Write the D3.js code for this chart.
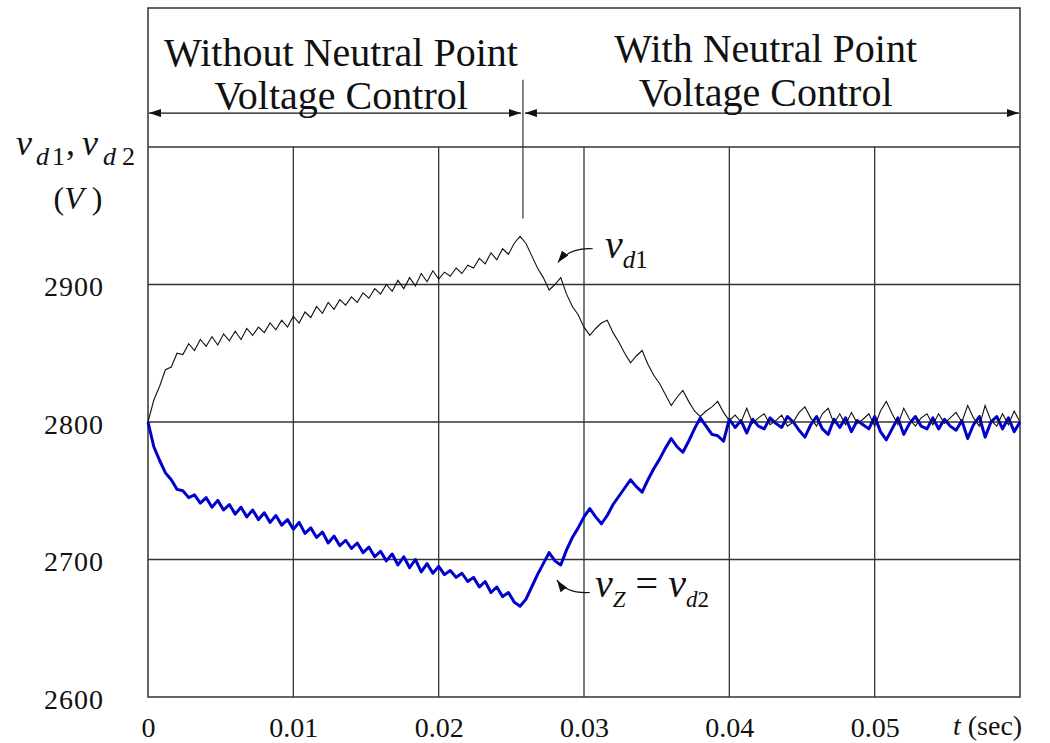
<!DOCTYPE html>
<html>
<head>
<meta charset="utf-8">
<script src="https://cdn.jsdelivr.net/npm/d3@7"></script>
<style>
  body { margin: 0; background: #fff; }
  svg text { font-family: "Liberation Serif", "Times New Roman", serif; fill: #111; }
</style>
</head>
<body>
<div id="chart"></div>
<script>
"use strict";

// sampled every 0.4 ms from 0 to 0.06 s
var sampleStep = 0.0004;

var vd1 = [
  2800, 2816, 2826, 2838, 2840, 2850, 2849, 2857, 2852, 2860,
  2855, 2862, 2856, 2864, 2859, 2866, 2860, 2868, 2863, 2869,
  2865, 2872, 2867, 2874, 2869, 2877, 2872, 2880, 2876, 2884,
  2879, 2887, 2882, 2889, 2885, 2891, 2887, 2894, 2890, 2897,
  2893, 2900, 2895, 2903, 2897, 2905, 2899, 2908, 2902, 2910,
  2904, 2909, 2906, 2912, 2908, 2914, 2912, 2919, 2915, 2923,
  2918, 2926, 2922, 2930, 2935, 2930, 2921, 2912, 2905, 2896,
  2900, 2905, 2893, 2884, 2878, 2869, 2863, 2868, 2872, 2874,
  2865, 2858, 2850, 2843, 2848, 2852, 2842, 2834, 2828, 2820,
  2812, 2818, 2823, 2815, 2808, 2804, 2808, 2811, 2815, 2807,
  2801, 2805, 2800, 2810, 2799, 2803, 2806, 2798, 2801, 2805,
  2797, 2800, 2807, 2811, 2803, 2797, 2806, 2810, 2799, 2806,
  2798, 2807, 2799, 2802, 2806, 2797, 2808, 2815, 2806, 2798,
  2810, 2802, 2797, 2803, 2806, 2798, 2806, 2799, 2803, 2807,
  2800, 2812, 2803, 2797, 2812, 2801, 2797, 2806, 2798, 2808,
  2800
];

var vd2 = [
  2800, 2782, 2772, 2763, 2758, 2751, 2750, 2745, 2747, 2741,
  2745, 2738, 2743, 2736, 2740, 2733, 2738, 2731, 2736, 2729,
  2734, 2727, 2732, 2725, 2729, 2722, 2727, 2719, 2723, 2716,
  2720, 2712, 2717, 2710, 2714, 2708, 2712, 2705, 2709, 2702,
  2706, 2699, 2704, 2696, 2702, 2694, 2700, 2691, 2697, 2690,
  2695, 2689, 2692, 2687, 2690, 2684, 2687, 2680, 2684, 2676,
  2680, 2673, 2676, 2669, 2666, 2671, 2680, 2689, 2697, 2705,
  2699, 2696, 2707, 2716, 2723, 2731, 2737, 2731, 2726, 2732,
  2740, 2746, 2752, 2758, 2753, 2749, 2758, 2766, 2773, 2781,
  2788, 2782, 2778, 2786, 2795, 2803, 2797, 2791, 2790, 2786,
  2802, 2796, 2801, 2792, 2802, 2797, 2795, 2803, 2799, 2796,
  2804, 2800, 2794, 2789, 2798, 2804, 2795, 2791, 2802, 2796,
  2803, 2793, 2801, 2798, 2795, 2804, 2793, 2787, 2795, 2803,
  2791, 2799, 2804, 2797, 2795, 2803, 2795, 2802, 2797, 2794,
  2801, 2788, 2798, 2804, 2789, 2800, 2804, 2795, 2803, 2793,
  2800
];

var xTicks = [0, 0.01, 0.02, 0.03, 0.04, 0.05];
var xTickLabels = ["0", "0.01", "0.02", "0.03", "0.04", "0.05"];
var yTicks = [2600, 2700, 2800, 2900];
var yGrid = [2700, 2800, 2900, 3000];
var switchTime = 0.0258;

var width = 1050;
var height = 743;
var margin = {top: 8, right: 30, bottom: 46, left: 148};
var plotTop = 147;

var svg = d3.select("#chart").append("svg")
  .attr("width", width)
  .attr("height", height);

var x = d3.scaleLinear()
  .domain([0, 0.06])
  .range([margin.left, width - margin.right]);

var y = d3.scaleLinear()
  .domain([2600, 3000])
  .range([height - margin.bottom, plotTop]);

var yTop = y.invert(margin.top);

var defs = svg.append("defs");
defs.append("marker")
  .attr("id", "head")
  .attr("viewBox", "0 0 12 8")
  .attr("refX", 12).attr("refY", 4)
  .attr("markerWidth", 12).attr("markerHeight", 8)
  .attr("markerUnits", "userSpaceOnUse")
  .attr("orient", "auto-start-reverse")
  .append("path")
  .attr("d", "M0,0 L12,4 L0,8 Z")
  .attr("fill", "#111");

// grid
svg.append("g")
  .selectAll("line")
  .data(yGrid)
  .enter().append("line")
  .attr("x1", x(0)).attr("x2", x(0.06))
  .attr("y1", function(d) { return y(d); })
  .attr("y2", function(d) { return y(d); })
  .attr("stroke", "#333").attr("stroke-width", 1.3);

svg.append("g")
  .selectAll("line")
  .data(xTicks.slice(1))
  .enter().append("line")
  .attr("x1", function(d) { return x(d); })
  .attr("x2", function(d) { return x(d); })
  .attr("y1", y(3000)).attr("y2", y(2600))
  .attr("stroke", "#333").attr("stroke-width", 1.3);

svg.append("rect")
  .attr("x", x(0)).attr("y", y(yTop))
  .attr("width", x(0.06) - x(0))
  .attr("height", y(2600) - y(yTop))
  .attr("fill", "none")
  .attr("stroke", "#333").attr("stroke-width", 1.5);

// axes labels
var yAxis = svg.append("g")
  .attr("transform", "translate(" + (x(0) - 44) + ",0)")
  .call(d3.axisLeft(y).tickValues(yTicks).tickSize(0).tickPadding(0).tickFormat(d3.format("d")));
yAxis.select(".domain").remove();
yAxis.selectAll("text")
  .attr("font-size", 28)
  .attr("letter-spacing", 1)
  .attr("font-family", "Liberation Serif, serif")
  .attr("fill", "#111")
  .attr("dy", "0.4em");

var xAxis = svg.append("g")
  .attr("transform", "translate(0," + y(2600) + ")")
  .call(d3.axisBottom(x).tickValues(xTicks).tickSize(0).tickPadding(20)
    .tickFormat(function(d, i) { return xTickLabels[i]; }));
xAxis.select(".domain").remove();
xAxis.selectAll("text")
  .attr("font-size", 28)
  .attr("font-family", "Liberation Serif, serif")
  .attr("fill", "#111");

var tLabel = svg.append("text")
  .attr("x", 953).attr("y", y(2600) + 38)
  .attr("font-size", 28);
tLabel.append("tspan").attr("font-style", "italic").text("t");
tLabel.append("tspan").text(" (sec)");

var yLabel = svg.append("text")
  .attr("y", 155)
  .attr("font-size", 36);
yLabel.append("tspan").attr("x", 16).attr("font-style", "italic").text("v");
yLabel.append("tspan").attr("x", 36).attr("font-size", 26).attr("font-style", "italic").attr("dy", 10).text("d");
yLabel.append("tspan").attr("x", 52).attr("font-size", 26).text("1");
yLabel.append("tspan").attr("x", 66).attr("dy", -10).text(",");
yLabel.append("tspan").attr("x", 82).attr("font-style", "italic").text("v");
yLabel.append("tspan").attr("x", 103).attr("font-size", 26).attr("font-style", "italic").attr("dy", 10).text("d");
yLabel.append("tspan").attr("x", 122).attr("font-size", 26).text("2");

var unitLabel = svg.append("text")
  .attr("x", 78).attr("y", 209)
  .attr("text-anchor", "middle")
  .attr("font-size", 32);
unitLabel.append("tspan").text("(");
unitLabel.append("tspan").attr("font-style", "italic").text("V");
unitLabel.append("tspan").text(" )");

// header: control regions
var headerV = 3024.7;
svg.append("line")
  .attr("x1", x(0) + 1).attr("x2", x(switchTime) - 2)
  .attr("y1", y(headerV)).attr("y2", y(headerV))
  .attr("stroke", "#111").attr("stroke-width", 1.2)
  .attr("marker-start", "url(#head)").attr("marker-end", "url(#head)");
svg.append("line")
  .attr("x1", x(switchTime) + 2).attr("x2", x(0.06) - 1)
  .attr("y1", y(headerV)).attr("y2", y(headerV))
  .attr("stroke", "#111").attr("stroke-width", 1.2)
  .attr("marker-start", "url(#head)").attr("marker-end", "url(#head)");
svg.append("line")
  .attr("x1", x(switchTime)).attr("x2", x(switchTime))
  .attr("y1", y(3049)).attr("y2", y(2948))
  .attr("stroke", "#333").attr("stroke-width", 1.2);

var headers = [
  {t: 0.01328, lines: ["Without Neutral Point", "Voltage Control"], base: [3059, 3027.5]},
  {t: 0.0425, lines: ["With Neutral Point", "Voltage Control"], base: [3062, 3029.5]}
];
headers.forEach(function(h) {
  h.lines.forEach(function(s, i) {
    svg.append("text")
      .attr("x", x(h.t)).attr("y", y(h.base[i]))
      .attr("text-anchor", "middle")
      .attr("font-size", 40)
      .text(s);
  });
});

// series
var line = d3.line()
  .x(function(d, i) { return x(i * sampleStep); })
  .y(function(d) { return y(d); });

svg.append("path")
  .datum(vd2)
  .attr("fill", "none")
  .attr("stroke", "#0000cc")
  .attr("stroke-width", 3)
  .attr("stroke-linejoin", "round")
  .attr("d", line);

svg.append("path")
  .datum(vd1)
  .attr("fill", "none")
  .attr("stroke", "#111")
  .attr("stroke-width", 1.1)
  .attr("d", line);

// annotations
svg.append("path")
  .attr("d", "M" + x(0.0306) + "," + y(2926) + " Q" + x(0.0290) + "," + y(2927) + " " + x(0.0282) + "," + y(2916))
  .attr("fill", "none").attr("stroke", "#111").attr("stroke-width", 1.2)
  .attr("marker-end", "url(#head)");
var lab1 = svg.append("text")
  .attr("x", x(0.03145)).attr("y", y(2919))
  .attr("font-size", 40);
lab1.append("tspan").attr("font-style", "italic").text("v");
lab1.append("tspan").attr("font-size", 25).attr("font-style", "italic").attr("dy", 10).text("d");
lab1.append("tspan").attr("font-size", 25).text("1");

svg.append("path")
  .attr("d", "M" + x(0.0304) + "," + y(2676) + " Q" + x(0.0288) + "," + y(2675) + " " + x(0.02814) + "," + y(2685))
  .attr("fill", "none").attr("stroke", "#111").attr("stroke-width", 1.2)
  .attr("marker-end", "url(#head)");
var lab2 = svg.append("text")
  .attr("x", x(0.03076)).attr("y", y(2673))
  .attr("font-size", 40);
lab2.append("tspan").attr("font-style", "italic").text("v");
lab2.append("tspan").attr("font-size", 23).attr("font-style", "italic").attr("dy", 10).text("Z");
lab2.append("tspan").attr("dy", -10).text(" = ");
lab2.append("tspan").attr("font-style", "italic").text("v");
lab2.append("tspan").attr("font-size", 23).attr("font-style", "italic").attr("dy", 10).text("d");
lab2.append("tspan").attr("font-size", 23).text("2");
</script>
</body>
</html>
